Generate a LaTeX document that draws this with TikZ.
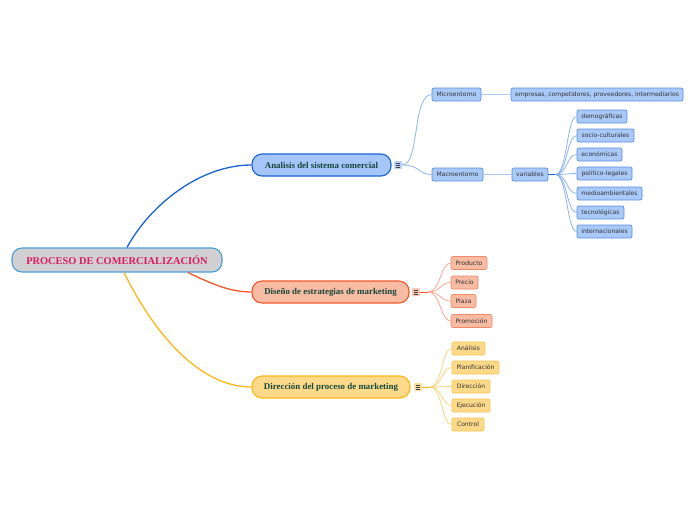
\documentclass[tikz,border=0pt]{standalone}
\usepackage{fontspec}
\setmainfont{Liberation Serif}
\newfontfamily\smallf{DejaVu Sans}
\definecolor{rootfill}{HTML}{D0D0D2}
\definecolor{rootdraw}{HTML}{4A9FD8}
\definecolor{roottext}{HTML}{DC1A5E}
\definecolor{maintext}{HTML}{15473A}
\definecolor{bfill}{HTML}{A6C6FA}
\definecolor{bdraw}{HTML}{1A62D6}
\definecolor{bsfill}{HTML}{A9C9F9}
\definecolor{bsdraw}{HTML}{5B8FE0}
\definecolor{bline}{HTML}{8CB4F0}
\definecolor{ofill}{HTML}{F8BBA4}
\definecolor{odraw}{HTML}{F0572A}
\definecolor{osdraw}{HTML}{F08A68}
\definecolor{oline}{HTML}{F8A88E}
\definecolor{yfill}{HTML}{FDD98A}
\definecolor{ydraw}{HTML}{FBB818}
\definecolor{ysdraw}{HTML}{F6C650}
\definecolor{yline}{HTML}{FCD47C}
\tikzset{
  mainbox/.style={rounded corners=10pt, line width=1.1pt, minimum height=22pt, inner sep=0pt,
    font=\fontsize{8.9}{10}\selectfont\bfseries, text=maintext},
  subbox/.style={rounded corners=2pt, line width=0.7pt, minimum height=13pt, inner sep=0pt,
    font=\smallf\fontsize{6.05}{7}\selectfont, text=black!80},
  bsub/.style={subbox, fill=bsfill, draw=bsdraw},
  osub/.style={subbox, fill=ofill, draw=osdraw},
  ysub/.style={subbox, fill=yfill, draw=ysdraw},
  iconbox/.style={minimum width=8pt, minimum height=8pt, inner sep=0pt, rounded corners=1pt,
    path picture={
      \draw[black!75, line width=0.55pt]
        ([xshift=-2.3pt,yshift=-1.8pt]path picture bounding box.center) -- ++(4.6pt,0)
        ([xshift=-2.3pt]path picture bounding box.center) -- ++(4.6pt,0)
        ([xshift=-2.3pt,yshift=1.8pt]path picture bounding box.center) -- ++(4.6pt,0);}},
  bcon/.style={bline, line width=0.8pt},
  ocon/.style={oline, line width=0.8pt},
  ycon/.style={yline, line width=0.8pt},
}
\begin{document}
\begin{tikzpicture}[x=1pt,y=-1pt]
\useasboundingbox (0,0) rectangle (696,520);
\fill[white] (0,0) rectangle (696,520);

% root
\node[rounded corners=10pt, line width=1.1pt, fill=rootfill, draw=rootdraw, minimum width=210pt,
  minimum height=24pt, inner sep=0pt, font=\fontsize{10.4}{12}\selectfont\bfseries, text=roottext]
  (root) at (117,260) {PROCESO DE COMERCIALIZACIÓN};

% main branches
\node[mainbox, fill=bfill, draw=bdraw, minimum width=139pt] (ana) at (321.5,165) {Analisis del sistema comercial};
\node[mainbox, fill=ofill, draw=odraw, minimum width=157pt] (dis) at (330.5,292) {Diseño de estrategias de marketing};
\node[mainbox, fill=yfill, draw=ydraw, minimum width=158pt] (dir) at (331,387) {Dirección del proceso de marketing};

% icons
\node[iconbox, fill=bfill!80!white] (anai) at (398,165) {};
\node[iconbox, fill=ofill!85!white] (disi) at (416,292) {};
\node[iconbox, fill=yfill!85!white] (diri) at (418,387) {};

% root connectors
\draw[bdraw, line width=1.3pt] ([xshift=10pt]root.north) .. controls (150,205) and (200,165) .. (ana.west);
\draw[odraw, line width=1.3pt] ([xshift=71pt]root.south) .. controls (212,284) and (230,292) .. (dis.west);
\draw[ydraw, line width=1.3pt] ([xshift=7pt]root.south) .. controls (155,335) and (200,387) .. (dir.west);

% blue subtree
\node[bsub, minimum width=49pt] (micro) at (456.5,94.5) {Microentorno};
\node[bsub, minimum width=172pt] (emp) at (597,94.5) {empresas, competidores, proveedores, intermediarios};
\node[bsub, minimum width=51pt] (macro) at (457.5,174.5) {Macroentorno};
\node[bsub, minimum width=36pt] (var) at (530,174.5) {variables};
\node[bsub, minimum width=50pt] (v1) at (602,116.5) {demográficas};
\node[bsub, minimum width=57pt] (v2) at (605.5,135.5) {socio-culturales};
\node[bsub, minimum width=45pt] (v3) at (599.5,154.5) {económicas};
\node[bsub, minimum width=55pt] (v4) at (604.5,173.5) {político-legales};
\node[bsub, minimum width=65pt] (v5) at (609.5,193.5) {medioambientales};
\node[bsub, minimum width=47pt] (v6) at (600.5,212.5) {tecnológicas};
\node[bsub, minimum width=55pt] (v7) at (604.5,231.5) {internacionales};

\draw[bcon] (anai.east) .. controls (420,165) and (412,94.5) .. (micro.west);
\draw[bcon] (anai.east) .. controls (420,165) and (418,174.5) .. (macro.west);
\draw[bline!70!white, line width=1.6pt] (micro.east) -- (emp.west);
\draw[bline!70!white, line width=1.6pt] (macro.east) -- (var.west);
\coordinate (vhub) at ([xshift=7pt]var.east);
\draw[bdraw, line width=1.6pt] (var.east) -- (vhub);
\foreach \t in {v1,v2,v3,v4,v5,v6,v7}
  \draw[bcon] (vhub) .. controls +(12,0) and +(-10,0) .. (\t.west);

% orange subtree
\node[osub, minimum width=36pt] (p1) at (469,263) {Producto};
\node[osub, minimum width=27pt] (p2) at (464.5,282.5) {Precio};
\node[osub, minimum width=25pt] (p3) at (463.5,301) {Plaza};
\node[osub, minimum width=41pt] (p4) at (471.5,321) {Promoción};
\coordinate (ohub) at ([xshift=8pt]disi.east);
\draw[odraw, line width=1pt] (disi.east) -- (ohub);
\foreach \t in {p1,p2,p3,p4}
  \draw[ocon] (ohub) .. controls +(12,0) and +(-10,0) .. (\t.west);

% yellow subtree
\node[ysub, minimum width=33pt] (d1) at (468.5,348.5) {Análisis};
\node[ysub, minimum width=47pt] (d2) at (475.5,367.5) {Planificación};
\node[ysub, minimum width=38pt] (d3) at (471,386.5) {Dirección};
\node[ysub, minimum width=38pt] (d4) at (471,405.5) {Ejecución};
\node[ysub, minimum width=32pt] (d5) at (468,424.5) {Control};
\coordinate (yhub) at ([xshift=8pt]diri.east);
\draw[ydraw, line width=1pt] (diri.east) -- (yhub);
\foreach \t in {d1,d2,d3,d4,d5}
  \draw[ycon] (yhub) .. controls +(12,0) and +(-10,0) .. (\t.west);
\end{tikzpicture}
\end{document}
